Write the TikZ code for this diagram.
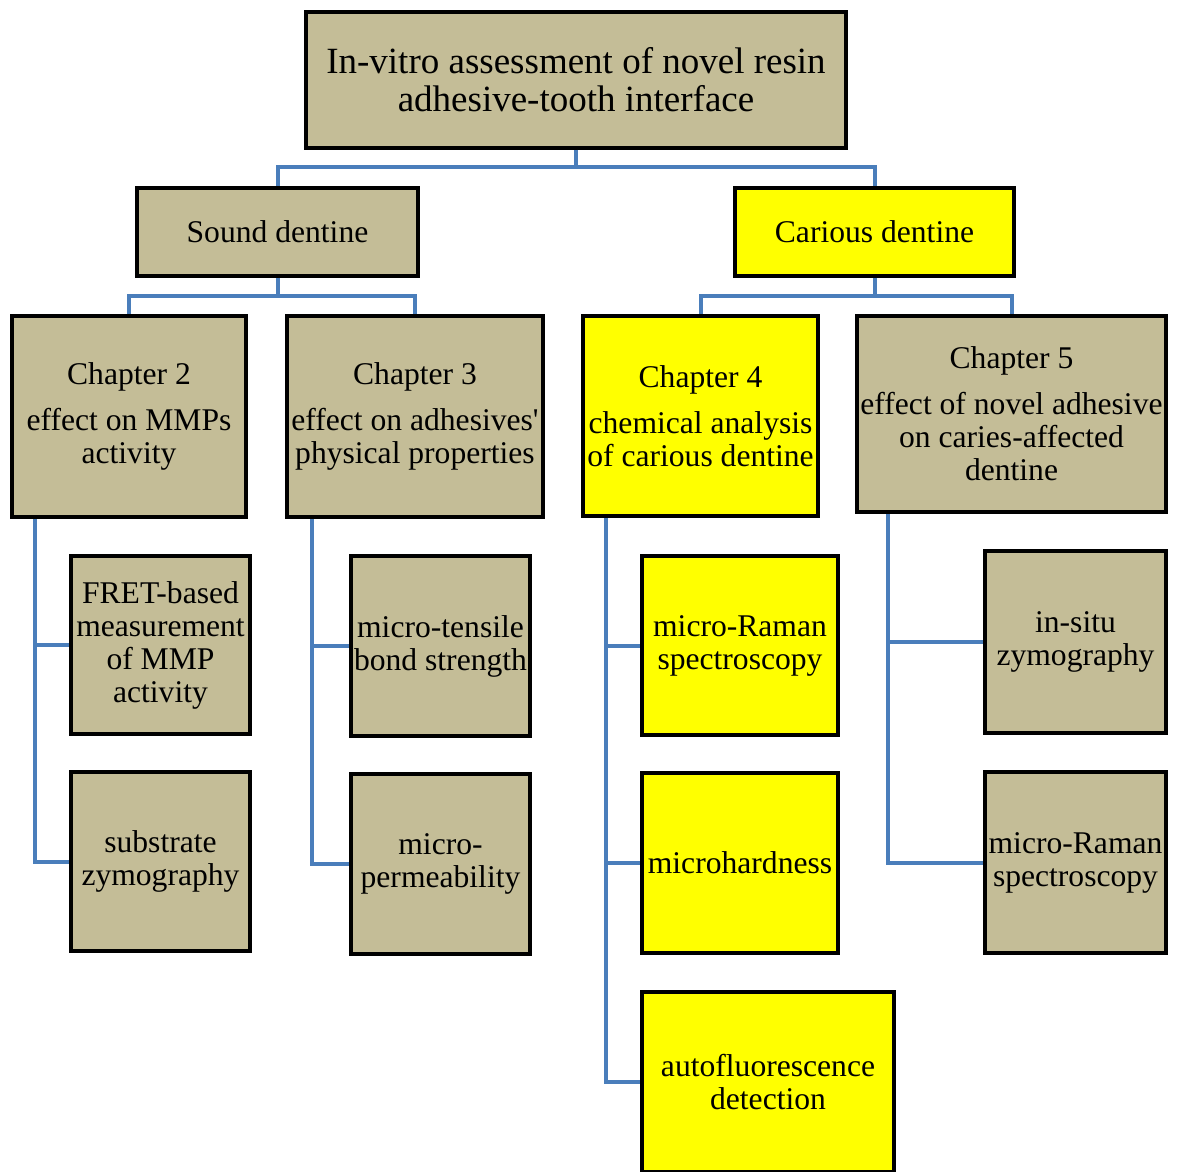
\documentclass[tikz,border=0pt]{standalone}
\usepackage{fontspec}
\setmainfont{Liberation Serif}
\usepackage{xcolor}
\definecolor{tan}{RGB}{196, 189, 151}
\definecolor{hilite}{RGB}{255, 255, 0}
\definecolor{linkblue}{RGB}{74, 126, 187}
\usepackage{tikz}
\usetikzlibrary{positioning,calc}

\begin{document}
\begin{tikzpicture}[
  x=0.5pt, y=-0.5pt,
  box/.style={draw=black, fill=tan, line width=2pt, align=center, inner sep=0pt, font=\fontsize{15.8}{16.5}\selectfont},
  hot/.style={box, fill=hilite},
  boxsize/.style 2 args={minimum width=#1*0.5pt, minimum height=#2*0.5pt},
  link/.style={draw=linkblue, line width=2pt, line join=miter}
]
\useasboundingbox (0,0) rectangle (1181,1171);
\clip (0,0) rectangle (1181,1171);

% top level
\node[box, boxsize={540}{136}, font=\fontsize{18.5}{19}\selectfont] (title) at (576,80) {In-vitro assessment of novel resin\\adhesive-tooth interface};
\node[box, boxsize={281}{88}] (sound) at (277.5,232) {Sound dentine};
\node[hot, boxsize={279}{88}] (carious) at (874.5,232) {Carious dentine};

% chapters
\node[box, boxsize={234}{201}] (ch2) at (129,416.5) {Chapter 2\\[6.5pt]effect on MMPs\\activity};
\node[box, boxsize={256}{201}] (ch3) at (415,416.5) {Chapter 3\\[6.5pt]effect on adhesives\textquotesingle\\physical properties};
\node[hot, boxsize={235}{200}] (ch4) at (700.5,416) {Chapter 4\\[6.5pt]chemical analysis\\of carious dentine};
\node[box, boxsize={309}{196}] (ch5) at (1011.5,414) {Chapter 5\\[6.5pt]effect of novel adhesive\\on caries-affected\\dentine};

% methods
\node[box, boxsize={179}{178}] (fret) at (160.5,645) {FRET-based\\measurement\\of MMP\\activity};
\node[box, boxsize={179}{179}] (subzymo) at (160.5,861.5) {substrate\\zymography};
\node[box, boxsize={179}{180}] (tensile) at (440.5,646) {micro-tensile\\bond strength};
\node[box, boxsize={179}{180}] (perm) at (440.5,864) {micro-\\permeability};
\node[hot, boxsize={196}{179}] (raman4) at (740,645.5) {micro-Raman\\spectroscopy};
\node[hot, boxsize={196}{180}] (hard) at (740,863) {microhardness};
\node[hot, boxsize={252}{180}] (autofl) at (768,1082) {autofluorescence\\detection};
\node[box, boxsize={181}{182}] (insitu) at (1075.5,642) {in-situ\\zymography};
\node[box, boxsize={181}{181}] (raman5) at (1075.5,862.5) {micro-Raman\\spectroscopy};

% tree links
\draw[link] (title.south) -- ++(0,17) -| (sound.north);
\draw[link] (title.south) -- ++(0,17) -| (carious.north);
\draw[link] (sound.south) -- ++(0,18) -| (ch2.north);
\draw[link] (sound.south) -- ++(0,18) -| (ch3.north);
\draw[link] (carious.south) -- ++(0,18) -| (ch4.north);
\draw[link] (carious.south) -- ++(0,18) -| (ch5.north);

\draw[link] ([xshift=12.5pt]ch2.south west) |- (fret.west);
\draw[link] ([xshift=12.5pt]ch2.south west) |- (subzymo.west);
\draw[link] ([xshift=13.5pt]ch3.south west) |- (tensile.west);
\draw[link] ([xshift=13.5pt]ch3.south west) |- (perm.west);
\draw[link] ([xshift=12.5pt]ch4.south west) |- (raman4.west);
\draw[link] ([xshift=12.5pt]ch4.south west) |- (hard.west);
\draw[link] ([xshift=12.5pt]ch4.south west) |- (autofl.west);
\draw[link] ([xshift=16.5pt]ch5.south west) |- (insitu.west);
\draw[link] ([xshift=16.5pt]ch5.south west) |- (raman5.west);
\end{tikzpicture}
\end{document}
